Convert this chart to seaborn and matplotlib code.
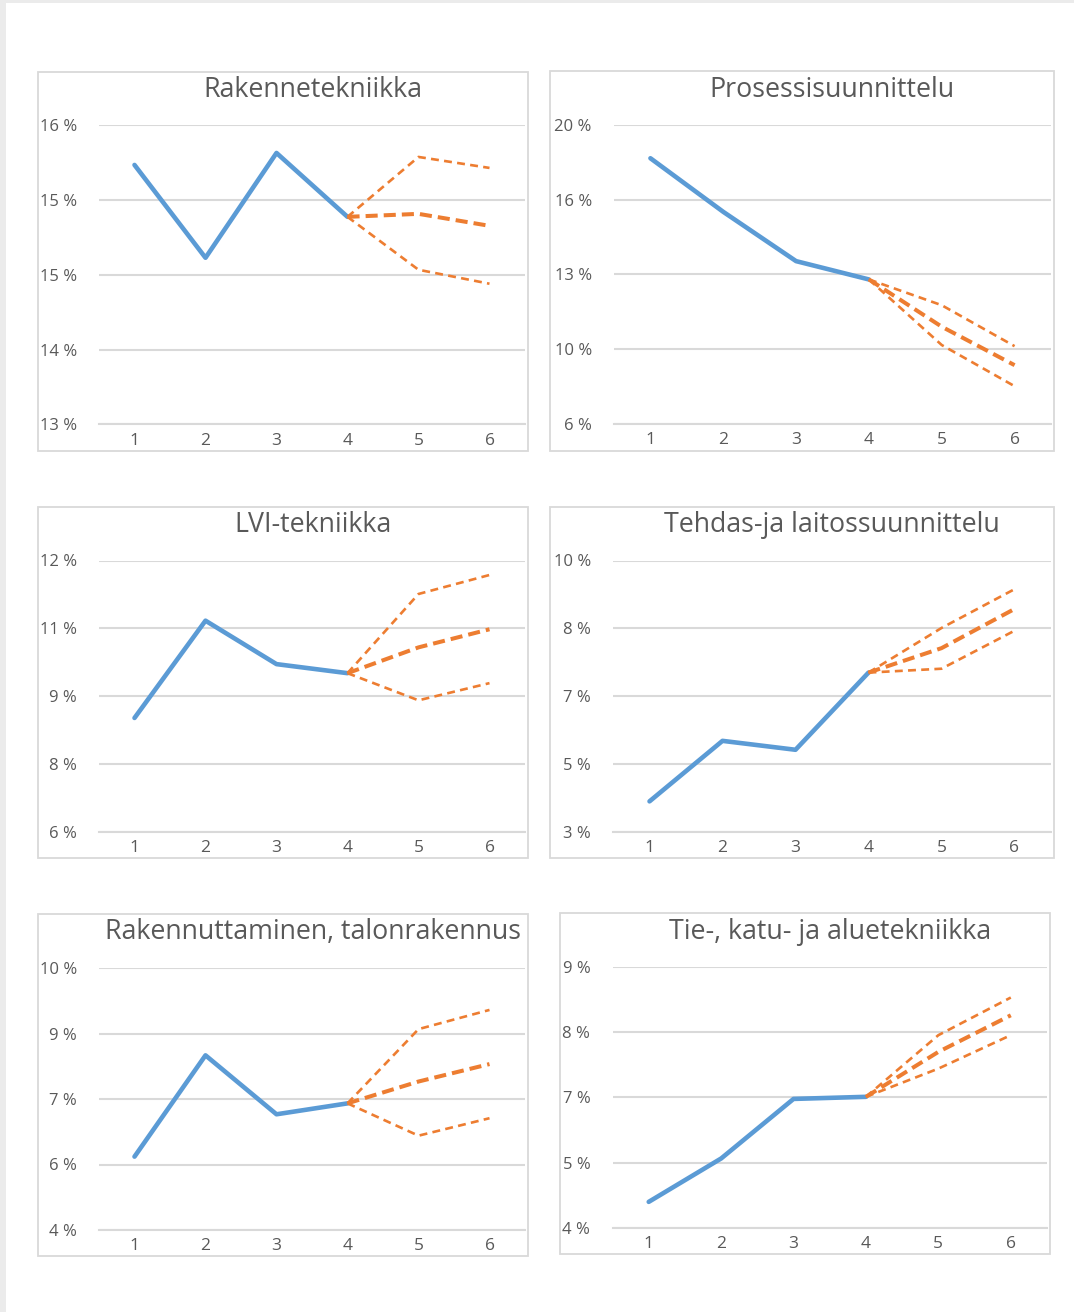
import matplotlib
matplotlib.use("Agg")
import matplotlib.pyplot as plt
from matplotlib.patches import Rectangle
import numpy as np
import pandas as pd
import seaborn as sns

# Data: vuodet 1-4 toteutunut, 4-6 ennuste (keski, ylä, ala)
years = [1, 2, 3, 4, 5, 6]
fc_years = [4, 5, 6]

titles = ["Rakennetekniikka", "Prosessisuunnittelu", "LVI-tekniikka",
          "Tehdas-ja laitossuunnittelu", "Rakennuttaminen, talonrakennus",
          "Tie-, katu- ja aluetekniikka"]

hist_rak = [15.60, 14.67, 15.72, 15.08]
mid_rak = [15.11, 14.99]
up_rak = [15.68, 15.57]
lo_rak = [14.55, 14.41]

hist_pro = [18.13, 15.76, 13.58, 12.77]
mid_pro = [10.68, 8.98]
up_pro = [11.63, 9.82]
lo_pro = [9.87, 8.05]

hist_lvi = [8.52, 10.67, 9.71, 9.51]
mid_lvi = [10.08, 10.48]
up_lvi = [11.26, 11.68]
lo_lvi = [8.91, 9.29]

hist_teh = [3.79, 5.35, 5.12, 7.11]
mid_teh = [7.74, 8.75]
up_teh = [8.26, 9.26]
lo_teh = [7.21, 8.19]

hist_rkt = [5.68, 8.00, 6.65, 6.90]
mid_rkt = [7.40, 7.80]
up_rkt = [8.60, 9.04]
lo_rkt = [6.16, 6.56]

hist_tie = [4.50, 5.33, 6.47, 6.51]
mid_tie = [7.37, 8.07]
up_tie = [7.69, 8.41]
lo_tie = [7.05, 7.69]

# y-akselin rajat ja Excelin pyöristämät tikkitekstit
ylims = [(13.0, 16.0), (6.4, 19.6), (6.0, 12.0), (3.0, 10.0), (4.0, 10.0), (4.0, 9.0)]
ylabels = [["13 %", "14 %", "15 %", "15 %", "16 %"],
           ["6 %", "10 %", "13 %", "16 %", "20 %"],
           ["6 %", "8 %", "9 %", "11 %", "12 %"],
           ["3 %", "5 %", "7 %", "8 %", "10 %"],
           ["4 %", "6 %", "7 %", "9 %", "10 %"],
           ["4 %", "5 %", "7 %", "8 %", "9 %"]]

series = [(hist_rak, mid_rak, up_rak, lo_rak), (hist_pro, mid_pro, up_pro, lo_pro),
          (hist_lvi, mid_lvi, up_lvi, lo_lvi), (hist_teh, mid_teh, up_teh, lo_teh),
          (hist_rkt, mid_rkt, up_rkt, lo_rkt), (hist_tie, mid_tie, up_tie, lo_tie)]

W, H = 1074, 1312
# plot areas in pixels: left, right, top, bottom
areas = [(99, 525, 125, 424.5), (614, 1051, 125, 423.5),
         (99, 525, 560.5, 832), (613, 1051, 560.5, 832),
         (99, 525, 968, 1230), (612.5, 1047, 966.7, 1228)]
boxes = [(38, 528, 72, 451), (550, 1054, 71, 451),
         (38, 528, 507, 858), (550, 1054, 507, 858),
         (38, 528, 914, 1256), (560, 1050, 913, 1254)]
title_pos = [(313, 90), (832, 90), (313, 525), (832, 525), (313, 932), (830, 932)]

sns.set_theme(style="white")
plt.rcParams['font.family'] = ['Open Sans', 'DejaVu Sans']

BLUE = "#5B9BD5"
ORANGE = "#ED7D31"
GRID = "#D9D9D9"
TXT = "#595959"

fig = plt.figure(figsize=(W / 100, H / 100), dpi=100)
fig.patch.set_facecolor("white")

# light frame of the screenshot
fig.patches.append(Rectangle((0, 0), 6 / W, 1, transform=fig.transFigure,
                             facecolor="#EBEBEB", edgecolor="none"))
fig.patches.append(Rectangle((0, 1 - 3 / H), 1, 3 / H, transform=fig.transFigure,
                             facecolor="#EBEBEB", edgecolor="none"))

for i in range(6):
    l, r, t, b = areas[i]
    ax = fig.add_axes([l / W, 1 - b / H, (r - l) / W, (b - t) / H])
    hist, mid, up, lo = series[i]

    df_hist = pd.DataFrame({"x": years[:4], "y": hist})
    sns.lineplot(data=df_hist, x="x", y="y", ax=ax, color=BLUE, linewidth=3.3,
                 solid_capstyle="round", zorder=3)
    for vals, lw, dash in [(up, 1.9, (3, 2)), (lo, 1.9, (3, 2)), (mid, 2.9, (3, 1.5))]:
        df_fc = pd.DataFrame({"x": fc_years, "y": [hist[-1]] + vals})
        sns.lineplot(data=df_fc, x="x", y="y", ax=ax, color=ORANGE, linewidth=lw,
                     linestyle=(0, dash), zorder=4)

    lo_y, hi_y = ylims[i]
    ax.set_ylim(lo_y, hi_y)
    ax.set_xlim(0.5, 6.5)
    ax.set_yticks(np.linspace(lo_y, hi_y, 5))
    ax.set_yticklabels(ylabels[i])
    ax.set_xticks(years)
    ax.set_xticklabels([str(y) for y in years])
    ax.grid(axis="y", color=GRID, linewidth=1.5)
    ax.grid(axis="x", visible=False)
    ax.set_xlabel("")
    ax.set_ylabel("")
    for s in ["top", "left", "right"]:
        ax.spines[s].set_visible(False)
    ax.spines["bottom"].set_color(GRID)
    ax.spines["bottom"].set_linewidth(1.5)
    ax.tick_params(axis="y", length=0, pad=16, labelsize=12, labelcolor=TXT)
    ax.tick_params(axis="x", length=0, pad=6, labelsize=12.5, labelcolor=TXT)
    ax.set_facecolor("none")
    for ln in ax.get_lines():
        ln.set_clip_on(False)

    bl, br, bt, bb = boxes[i]
    fig.patches.append(Rectangle((bl / W, 1 - bb / H), (br - bl) / W, (bb - bt) / H,
                                 transform=fig.transFigure, facecolor="none",
                                 edgecolor=GRID, linewidth=1.3))
    tx, ty = title_pos[i]
    fig.text(tx / W, 1 - ty / H, titles[i], ha="center", va="center",
             fontsize=19.3, color=TXT)

fig.savefig("out.png", dpi=100, facecolor="white")
